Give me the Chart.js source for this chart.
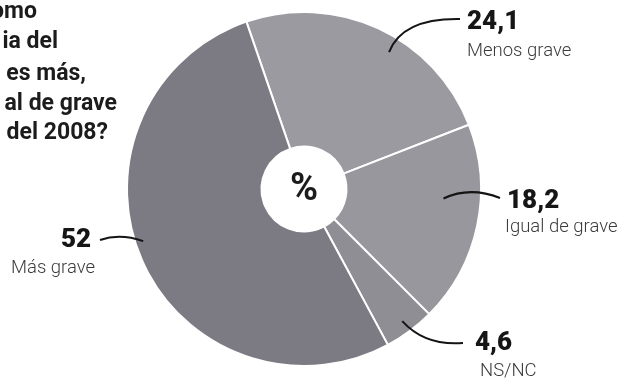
<!DOCTYPE html>
<html>
<head>
<meta charset="utf-8">
<script src="https://cdn.jsdelivr.net/npm/chart.js@4"></script>
<style>
  html, body { margin: 0; padding: 0; background: #fff; }
  #wrap { width: 621px; height: 379px; position: relative; }
</style>
</head>
<body>
<div id="wrap"><canvas id="pieChart" width="621" height="379"></canvas></div>
<script>
// Datos
const categorias = ['Menos grave', 'Igual de grave', 'NS/NC', 'Más grave'];
const valores = [24.1, 18.2, 4.6, 52];
const etiquetas = ['24,1', '18,2', '4,6', '52'];
const colores = ['#9b9aa1', '#98979d', '#8f8e95', '#7c7b84'];
const titulo = ['omo', 'ia del', 'es más,', 'al de grave', 'del 2008?'];

// posiciones de las etiquetas (solo diseño)
const etiquetaLayout = [
  { frac: 0.58, rf: 0.91, ctrl: [402, 18], end: [460, 19], numX: 467, numY: 29, subX: 467, subY: 56 },
  { frac: 0.38, rf: 0.79, ctrl: [470, 186], end: [500, 198], numX: 507, numY: 208, subX: 505, subY: 232 },
  { frac: 0.5, rf: 0.93, ctrl: [425, 346], end: [463, 343], numX: 475, numY: 350, subX: 480, subY: 376 },
  { frac: 0.53, rf: 0.955, ctrl: [120, 233], end: [100, 240], numX: 61, numY: 247, subX: 11, subY: 273 }
];

const etiquetasPlugin = {
  id: 'etiquetas',
  afterDraw(chart) {
    const ctx = chart.ctx;
    const arcs = chart.getDatasetMeta(0).data;
    ctx.save();

    // título (recortado a la izquierda)
    ctx.fillStyle = '#1c1c1c';
    ctx.font = 'bold 23px Roboto';
    ctx.textAlign = 'right';
    ctx.textBaseline = 'alphabetic';
    const tituloX = [37, 58, 86, 117, 108];
    const tituloY = [18, 48, 80, 110, 139];
    titulo.forEach((t, i) => ctx.fillText(t, tituloX[i], tituloY[i]));

    // "%" en el centro
    const a0 = arcs[0];
    ctx.textAlign = 'center';
    ctx.textBaseline = 'middle';
    ctx.font = 'bold 38px Roboto';
    ctx.fillText('%', a0.x, a0.y + 1);

    // líneas y textos
    ctx.textAlign = 'left';
    ctx.textBaseline = 'alphabetic';
    arcs.forEach((arc, i) => {
      const l = etiquetaLayout[i];
      const ang = arc.startAngle + (arc.endAngle - arc.startAngle) * l.frac;
      const sx = arc.x + Math.cos(ang) * arc.outerRadius * l.rf;
      const sy = arc.y + Math.sin(ang) * arc.outerRadius * l.rf;
      ctx.beginPath();
      ctx.moveTo(sx, sy);
      ctx.quadraticCurveTo(l.ctrl[0], l.ctrl[1], l.end[0], l.end[1]);
      ctx.strokeStyle = '#141414';
      ctx.lineWidth = 2;
      ctx.stroke();

      ctx.fillStyle = '#161616';
      ctx.font = '900 26px Roboto';
      ctx.fillText(etiquetas[i], l.numX, l.numY);
      ctx.fillStyle = '#3c3c3c';
      ctx.font = '300 18.5px Roboto';
      ctx.fillText(categorias[i], l.subX, l.subY);
    });
    ctx.restore();
  }
};

const ctx = document.getElementById('pieChart');

new Chart(ctx, {
  type: 'doughnut',
  data: {
    labels: categorias,
    datasets: [
      {
        data: valores,
        backgroundColor: colores,
        borderColor: '#ffffff',
        borderWidth: 2
      }
    ]
  },
  options: {
    responsive: false,
    animation: false,
    rotation: -19,
    cutout: '24%',
    layout: {
      padding: { top: 11, bottom: 12, left: 100, right: 113 }
    },
    plugins: {
      legend: { display: false },
      tooltip: { enabled: false }
    }
  },
  plugins: [etiquetasPlugin]
});
</script>
</body>
</html>
